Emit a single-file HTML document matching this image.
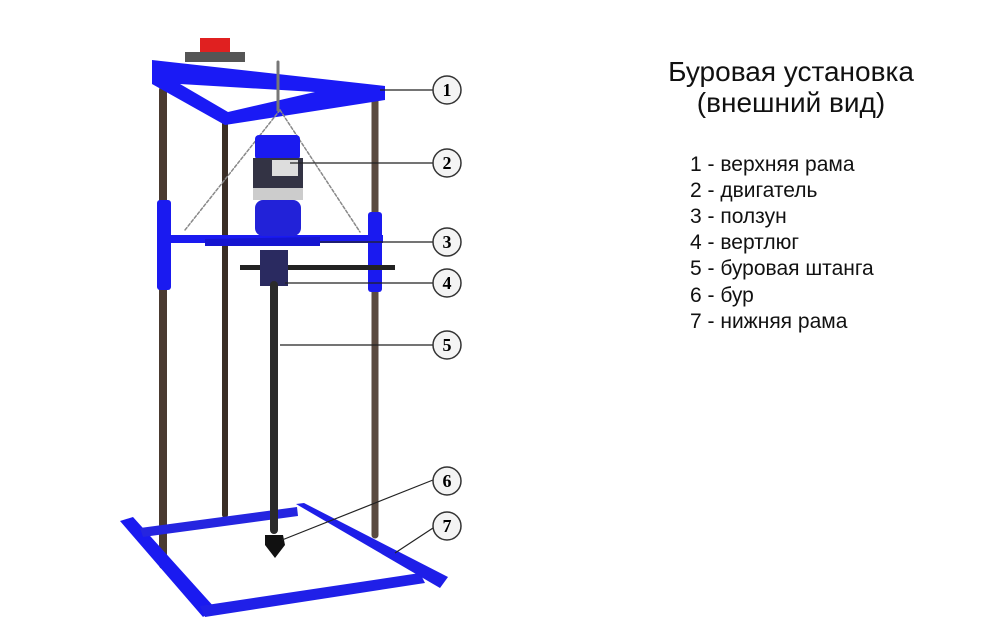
<!DOCTYPE html>
<html><head><meta charset="utf-8"><style>
body{margin:0;background:#fff;width:1000px;height:635px;overflow:hidden;position:relative;font-family:"Liberation Sans",sans-serif}
.t{position:absolute;left:600px;width:382px;text-align:center;font-size:28px;color:#111;line-height:30px}
.l{position:absolute;left:690px;font-size:21px;color:#111;line-height:24px}
</style></head><body>
<svg width="1000" height="635" style="position:absolute;left:0;top:0">
<g stroke-linecap="round">
<line x1="163" y1="90" x2="163" y2="565" stroke="#4a3a30" stroke-width="8"/>
<line x1="225" y1="120" x2="225" y2="515" stroke="#3a2e26" stroke-width="6"/>
<line x1="375" y1="100" x2="375" y2="535" stroke="#5a4a40" stroke-width="7"/>
<polygon points="120,521 133,517 215,608 203,617" fill="#1a1af0"/>
<polygon points="200,606 420,573 425,583 205,617" fill="#2020e8"/>
<polygon points="140,528 297,507 298,516 143,537" fill="#2525e0"/>
<polygon points="296,504 304,503 448,577 440,588" fill="#1e1ee8"/>
<polygon points="152,60 385,86 385,100 225,125 152,84" fill="#1a1af5"/>
<polygon points="180,84 315,92 228,112" fill="#fff"/>
<rect x="200" y="38" width="30" height="18" fill="#e02020"/>
<rect x="185" y="52" width="60" height="10" fill="#555"/>
<line x1="280" y1="110" x2="185" y2="230" stroke="#888" stroke-width="1.5" stroke-dasharray="3,2"/>
<line x1="280" y1="110" x2="360" y2="232" stroke="#888" stroke-width="1.5" stroke-dasharray="3,2"/>
<line x1="278" y1="62" x2="278" y2="110" stroke="#777" stroke-width="3"/>
<rect x="157" y="200" width="14" height="90" rx="3" fill="#1a1af0"/>
<rect x="368" y="212" width="14" height="80" rx="3" fill="#1a1af0"/>
<rect x="168" y="235" width="215" height="8" fill="#1a1af0"/>
<polygon points="205,239 320,237 320,246 205,246" fill="#1515d0"/>
<rect x="255" y="135" width="45" height="25" rx="4" fill="#1a1af0"/>
<rect x="253" y="158" width="50" height="30" fill="#334" />
<rect x="272" y="160" width="26" height="16" fill="#ddd"/>
<rect x="253" y="188" width="50" height="12" fill="#ccc"/>
<rect x="255" y="200" width="46" height="36" rx="8" fill="#2222d8"/>
<rect x="240" y="265" width="155" height="5" fill="#222"/>
<rect x="260" y="250" width="28" height="36" fill="#2a2a60"/>
<line x1="274" y1="285" x2="274" y2="530" stroke="#2a2a2a" stroke-width="8"/>
<polygon points="265,535 283,535 285,545 275,558 265,545" fill="#111"/>
</g>
<g stroke="#222" stroke-width="1.2" fill="none">
<line x1="380" y1="90" x2="433" y2="90"/>
<line x1="290" y1="163" x2="433" y2="163"/>
<line x1="320" y1="242" x2="433" y2="242"/>
<line x1="285" y1="283" x2="433" y2="283"/>
<line x1="280" y1="345" x2="433" y2="345"/>
<line x1="282" y1="540" x2="433" y2="480"/>
<line x1="395" y1="553" x2="433" y2="528"/>
</g>
<g font-family="Liberation Serif,serif" font-weight="bold" font-size="18" text-anchor="middle">
<g fill="#f4f4f4" stroke="#333" stroke-width="1.5">
<circle cx="447" cy="90" r="14"/><circle cx="447" cy="163" r="14"/><circle cx="447" cy="242" r="14"/><circle cx="447" cy="283" r="14"/><circle cx="447" cy="345" r="14"/><circle cx="447" cy="481" r="14"/><circle cx="447" cy="526" r="14"/>
</g>
<text x="447" y="96">1</text><text x="447" y="169">2</text><text x="447" y="248">3</text><text x="447" y="289">4</text><text x="447" y="351">5</text><text x="447" y="487">6</text><text x="447" y="532">7</text>
</g>
</svg>
<div class="t" style="top:57px">Буровая установка</div>
<div class="t" style="top:88px">(внешний вид)</div>
<div class="l" style="top:153px">1 - верхняя рама</div>
<div class="l" style="top:179px">2 - двигатель</div>
<div class="l" style="top:205px">3 - ползун</div>
<div class="l" style="top:231px">4 - вертлюг</div>
<div class="l" style="top:257px">5 - буровая штанга</div>
<div class="l" style="top:284px">6 - бур</div>
<div class="l" style="top:310px">7 - нижняя рама</div>
</body></html>
